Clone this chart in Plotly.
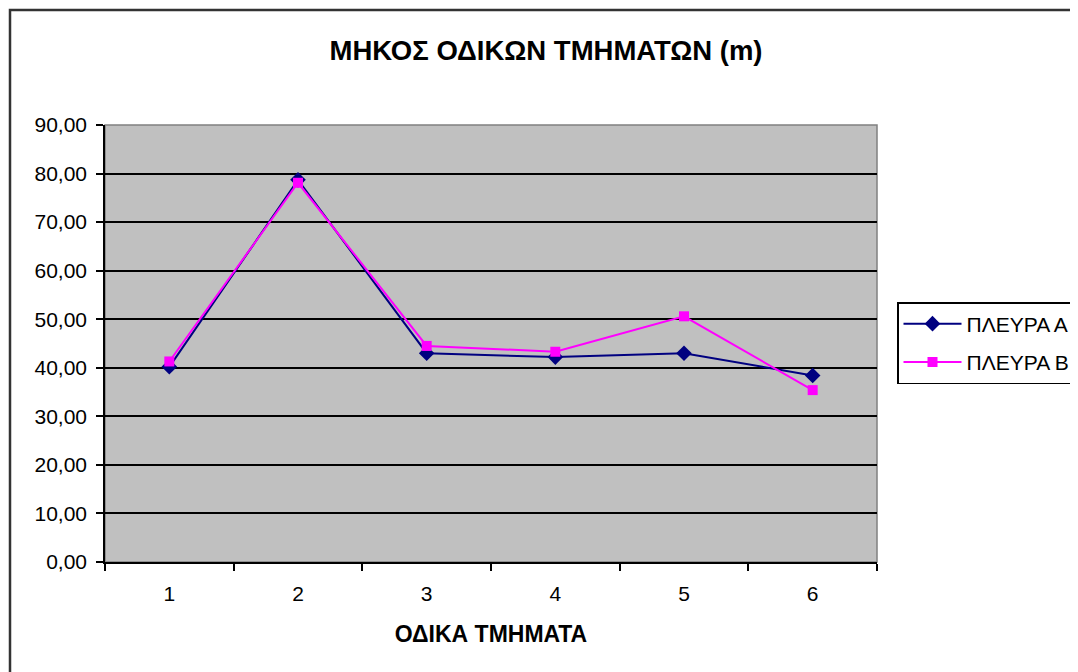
import plotly.graph_objects as go

categories = ["1", "2", "3", "4", "5", "6"]
side_a = [40.2, 78.7, 43.0, 42.2, 43.0, 38.4]
side_b = [41.3, 78.1, 44.5, 43.3, 50.6, 35.4]
name_a = "ΠΛΕΥΡΑ Α"
name_b = "ΠΛΕΥΡΑ Β"
title = "ΜΗΚΟΣ ΟΔΙΚΩΝ ΤΜΗΜΑΤΩΝ (m)"
x_title = "ΟΔΙΚΑ ΤΜΗΜΑΤΑ"
y_ticks = [0, 10, 20, 30, 40, 50, 60, 70, 80, 90]

FONT = "Liberation Sans, Arial, sans-serif"
OFF = 8  # page body margin offset

fig = go.Figure()
fig.add_trace(go.Scatter(x=categories, y=side_a, name=name_a, mode="lines+markers",
                         legendgroup="a",
                         line=dict(color="#000080", width=2),
                         marker=dict(symbol="diamond", size=12, color="#000080")))
fig.add_trace(go.Scatter(x=categories, y=side_b, name=name_b, mode="lines+markers",
                         legendgroup="b",
                         line=dict(color="#ff00ff", width=2),
                         marker=dict(symbol="square", size=10, color="#ff00ff")))

W, H = 1078 - OFF, 672 - OFF
L, R, T, B = 105 - OFF, W - (877 - OFF), 125 - OFF, H - (562 - OFF)
pw, ph = W - L - R, H - T - B

def px_x(p):
    return (p - OFF - L) / pw

def px_y(p):
    return (H - B - (p - OFF)) / ph

fig.update_layout(
    width=W, height=H,
    margin=dict(l=L, r=R, t=T, b=B, autoexpand=False),
    paper_bgcolor="white",
    plot_bgcolor="#c0c0c0",
    separators=",.",
    font=dict(family=FONT, size=21, color="black"),
    title=dict(text="<b>" + title + "</b>", x=px_x(546), xanchor="center", xref="paper",
               y=1 - (50 - OFF) / H, yanchor="middle", font=dict(size=27.5, family=FONT)),
    showlegend=True,
    legend=dict(x=px_x(897), y=px_y(302), xanchor="left", yanchor="top",
                bgcolor="white", bordercolor="black", borderwidth=1.5,
                font=dict(size=21, family=FONT), tracegroupgap=8,
                itemwidth=58),
    xaxis=dict(type="category", range=[-0.5, 5.5], tickson="boundaries",
               ticks="outside", ticklen=7, tickcolor="black", tickwidth=1.5,
               showline=True, linecolor="black", linewidth=1.5,
               showgrid=False, zeroline=False, ticklabelstandoff=12,
               title=dict(text="<b>" + x_title + "</b>", font=dict(size=23, family=FONT), standoff=22),
               tickfont=dict(size=21)),
    yaxis=dict(range=[0, 90], tickvals=y_ticks, tickformat=".2f",
               ticks="outside", ticklen=7, tickcolor="black", tickwidth=1.5,
               showline=True, linecolor="black", linewidth=1.5,
               showgrid=True, gridcolor="black", gridwidth=1.5,
               zeroline=False, ticklabelstandoff=5,
               tickfont=dict(size=21)),
    shapes=[
        dict(type="rect", xref="paper", yref="paper", x0=0, x1=1, y0=0, y1=1,
             line=dict(color="#808080", width=1.5), layer="below"),
        dict(type="rect", xref="paper", yref="paper",
             x0=px_x(10), x1=px_x(1090), y0=px_y(690), y1=px_y(10),
             line=dict(color="#333333", width=2.5)),
    ],
)

fig.write_html("out.html")
